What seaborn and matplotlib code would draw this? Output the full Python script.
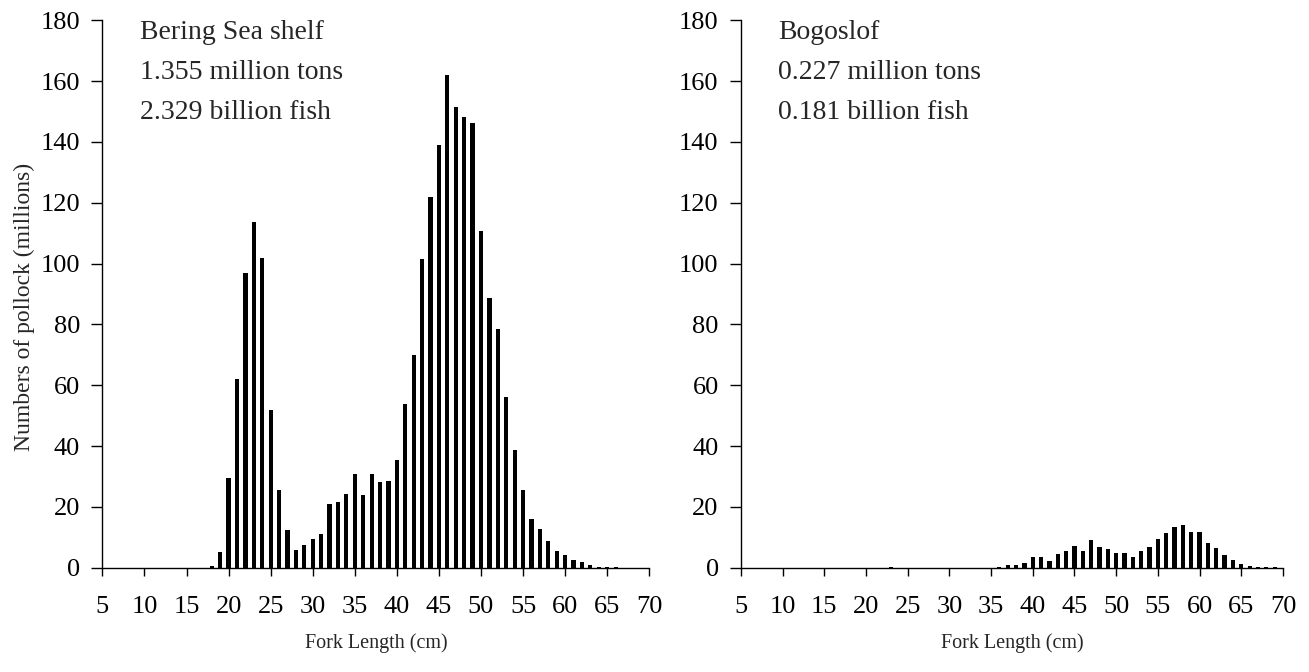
import matplotlib
matplotlib.use('Agg')
import matplotlib.pyplot as plt
import seaborn as sns

# Fork length (cm) and numbers of pollock (millions)
shelf_lengths = list(range(18, 67))
shelf_numbers = [0.5, 5.3, 29.6, 62.1, 96.9, 113.6, 101.9, 51.8, 25.7, 12.6,
                 6.0, 7.4, 9.6, 11.2, 21.0, 21.7, 24.2, 30.9, 24.1, 30.7,
                 28.3, 28.7, 35.3, 54.0, 70.1, 101.6, 121.8, 138.9, 162.1, 151.4,
                 148.2, 146.1, 110.7, 88.8, 78.4, 56.3, 38.8, 25.5, 16.0, 12.8,
                 8.7, 5.4, 4.3, 2.6, 2.0, 1.0, 0.4, 0.4, 0.4]

bogoslof_lengths = [23] + list(range(36, 70))
bogoslof_numbers = [0.3, 0.3, 0.8, 1.0, 1.6, 3.4, 3.6, 2.3, 4.7, 5.5, 7.1,
                    5.6, 9.2, 6.9, 6.1, 4.9, 4.9, 3.6, 5.6, 6.7, 9.5,
                    11.6, 13.3, 14.1, 11.7, 11.9, 8.1, 6.5, 4.1, 2.7, 1.2,
                    0.5, 0.2, 0.2, 0.2]

shelf_label = 'Bering Sea shelf\n1.355 million tons\n2.329 billion fish'
bogoslof_label = 'Bogoslof\n0.227 million tons\n0.181 billion fish'

x_ticks = list(range(5, 75, 5))
y_ticks = list(range(0, 200, 20))

sns.set_style('ticks')
plt.rcParams['font.family'] = ['Liberation Serif', 'DejaVu Serif']
TICK_FS = 19
TEXT_FS = 20


def panel(ax, lengths, numbers, label, ylabel=None):
    sns.barplot(x=lengths, y=numbers, native_scale=True, width=0.5,
                color='black', edgecolor='black', linewidth=0, ax=ax)
    ax.set_xlim(5, 70)
    ax.set_ylim(0, 180)
    ax.set_xticks(x_ticks)
    ax.set_yticks(y_ticks)
    ax.tick_params(axis='both', labelsize=TICK_FS, direction='out', color='black',
                   width=1, labelcolor='black')
    ax.tick_params(axis='x', length=6, pad=14)
    ax.tick_params(axis='y', length=8, pad=8)
    sns.despine(ax=ax)
    for s in ['left', 'bottom']:
        ax.spines[s].set_color('black')
        ax.spines[s].set_linewidth(1)
    ax.set_xlabel('Fork Length (cm)', fontsize=14.5, labelpad=11)
    ax.set_ylabel(ylabel if ylabel else '', fontsize=17, labelpad=4)
    ax.yaxis.label.set_y(0.476)
    ax.text(0.068, 1.0, label, transform=ax.transAxes, fontsize=TEXT_FS,
            va='top', ha='left', linespacing=1.78)
    ax.grid(False)


fig = plt.figure(figsize=(13.09, 6.72), dpi=100)
ax_left = fig.add_axes([0.0782, 0.155, 0.4178, 0.815])
ax_right = fig.add_axes([0.5660, 0.155, 0.4141, 0.815])

panel(ax_left, shelf_lengths, shelf_numbers, shelf_label,
      ylabel='Numbers of pollock (millions)')
panel(ax_right, bogoslof_lengths, bogoslof_numbers, bogoslof_label)

fig.savefig('out.png', dpi=100, facecolor='white')
